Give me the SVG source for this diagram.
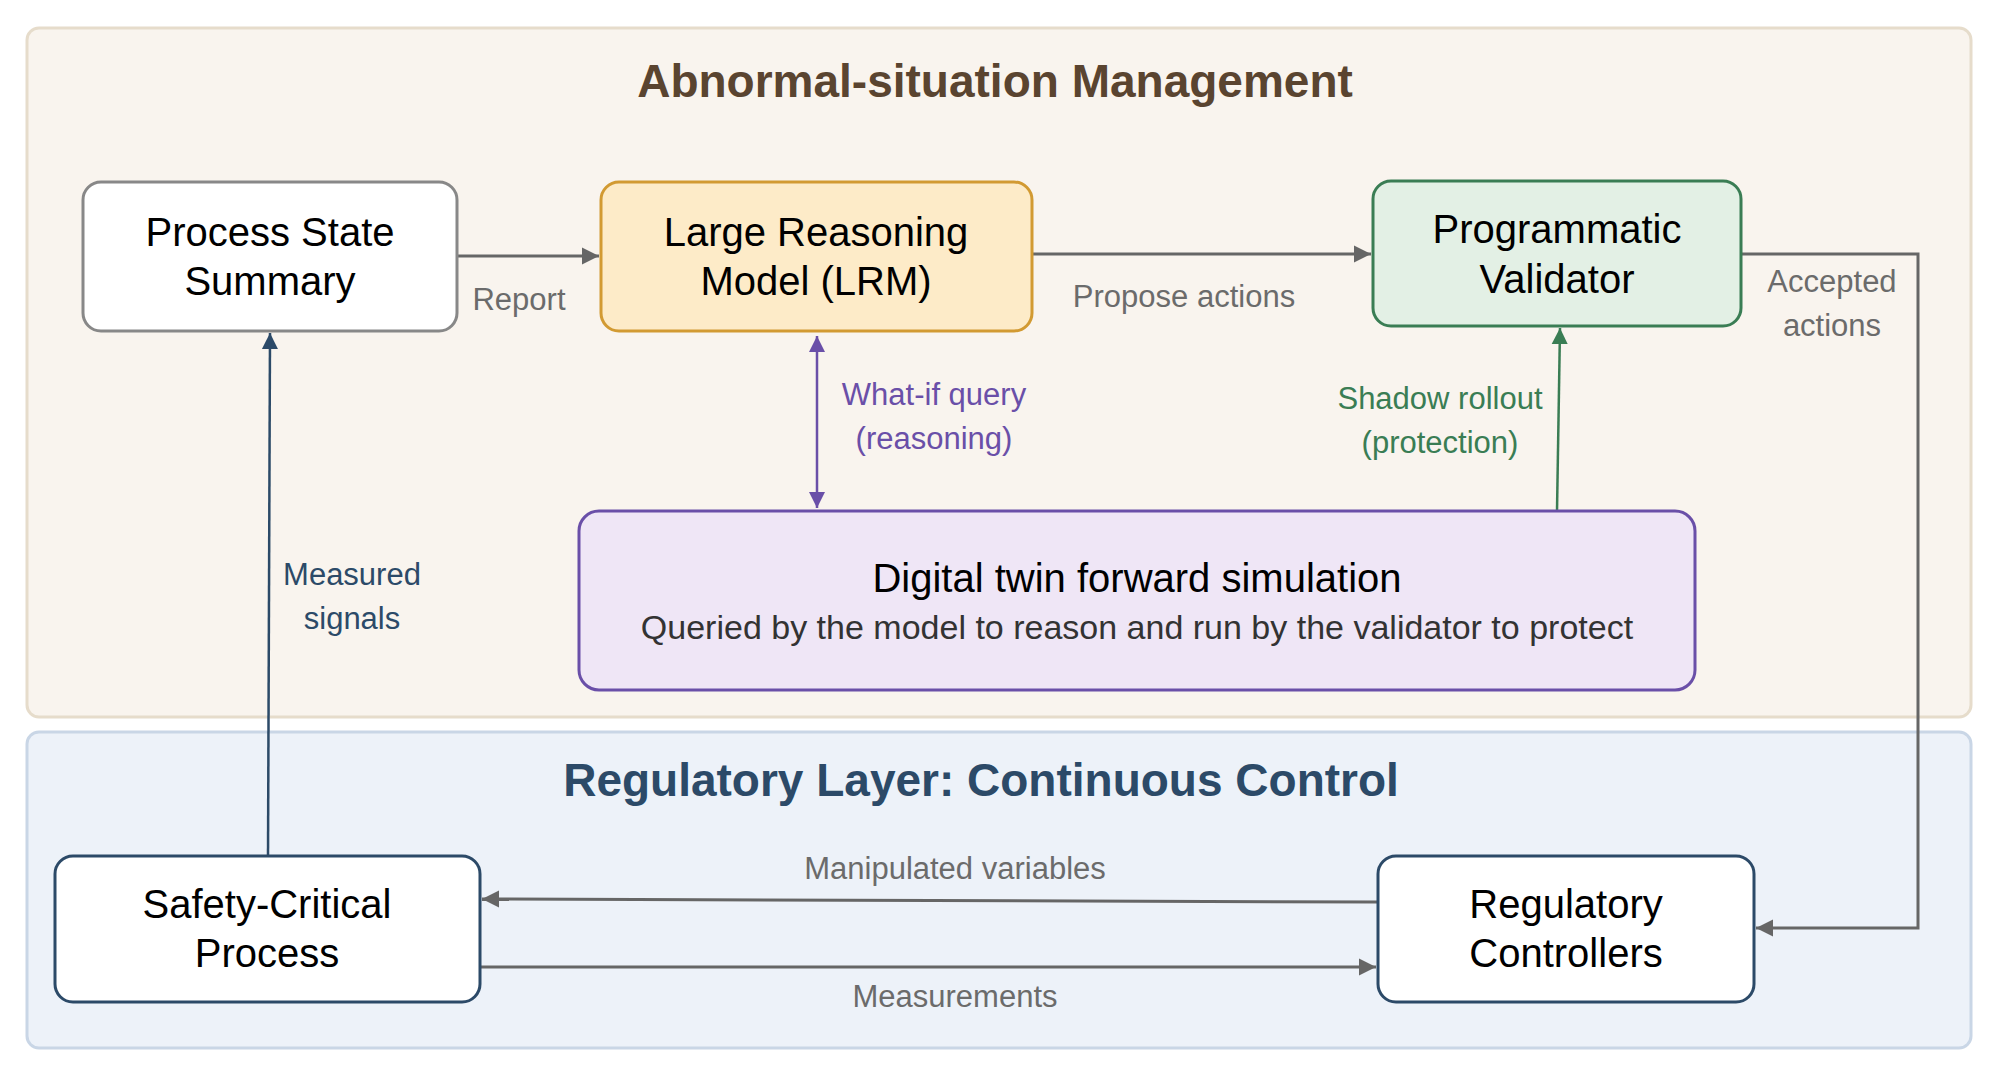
<svg xmlns="http://www.w3.org/2000/svg" width="2000" height="1075" viewBox="0 0 2000 1075">
<style>
text{font-family:"Liberation Sans",Arial,Helvetica,sans-serif;text-anchor:middle}
.title{font-size:46px;font-weight:bold}
.node{font-size:40px;fill:#000}
.lbl{font-size:31px;fill:#6b6b6b}
.box{stroke-width:3}
.gray{stroke:#666;stroke-width:3;fill:none}
</style>
<defs>
<marker id="ag" viewBox="0 0 10 10" refX="10" refY="5" markerWidth="5.8" markerHeight="5.8" orient="auto-start-reverse" markerUnits="strokeWidth"><path d="M0,0 L10,5 L0,10 z" fill="#666"/></marker>
<marker id="ab" viewBox="0 0 10 10" refX="10" refY="5" markerWidth="6.5" markerHeight="7" orient="auto-start-reverse" markerUnits="strokeWidth"><path d="M0,0 L10,5 L0,10 z" fill="#2c4a68"/></marker>
<marker id="ap" viewBox="0 0 10 10" refX="10" refY="5" markerWidth="6.5" markerHeight="7" orient="auto-start-reverse" markerUnits="strokeWidth"><path d="M0,0 L10,5 L0,10 z" fill="#6a4fa8"/></marker>
<marker id="agr" viewBox="0 0 10 10" refX="10" refY="5" markerWidth="6.5" markerHeight="7" orient="auto-start-reverse" markerUnits="strokeWidth"><path d="M0,0 L10,5 L0,10 z" fill="#3a7d54"/></marker>
</defs>
<rect width="2000" height="1075" fill="#fff"/>
<g id="panel-asm">
<rect x="27" y="28" width="1944" height="689" rx="12" fill="#f9f4ee" stroke="#e6dccb" stroke-width="3"/>
<text class="title" x="995" y="97" fill="#5a4430">Abnormal-situation Management</text>
</g>
<g id="panel-reg">
<rect x="27" y="732" width="1944" height="316" rx="12" fill="#edf2f9" stroke="#c9d6e6" stroke-width="3"/>
<text class="title" x="981" y="796" fill="#2c4a68">Regulatory Layer: Continuous Control</text>
</g>
<g id="connectors">
<line class="gray" x1="457" y1="256" x2="599" y2="256" marker-end="url(#ag)"/>
<text class="lbl" x="519" y="310">Report</text>
<line class="gray" x1="1032" y1="254" x2="1371" y2="254" marker-end="url(#ag)"/>
<text class="lbl" x="1184" y="307">Propose actions</text>
<polyline class="gray" points="1741,254 1918,254 1918,928 1756,928" marker-end="url(#ag)"/>
<text class="lbl" x="1832" y="292">Accepted</text>
<text class="lbl" x="1832" y="336">actions</text>
<line class="gray" x1="1378" y1="902" x2="482" y2="899" marker-end="url(#ag)"/>
<text class="lbl" x="955" y="879">Manipulated variables</text>
<line class="gray" x1="480" y1="967" x2="1376" y2="967" marker-end="url(#ag)"/>
<text class="lbl" x="955" y="1007">Measurements</text>
<line x1="268" y1="856" x2="270" y2="333" stroke="#2c4a68" stroke-width="2.5" marker-end="url(#ab)"/>
<text class="lbl" x="352" y="585" style="fill:#2c4a68">Measured</text>
<text class="lbl" x="352" y="629" style="fill:#2c4a68">signals</text>
<line x1="817" y1="336" x2="817" y2="508" stroke="#6a4fa8" stroke-width="2.5" marker-start="url(#ap)" marker-end="url(#ap)"/>
<text class="lbl" x="934" y="405" style="fill:#6a4fa8">What-if query</text>
<text class="lbl" x="934" y="449" style="fill:#6a4fa8">(reasoning)</text>
<line x1="1557" y1="511" x2="1560" y2="328" stroke="#3a7d54" stroke-width="2.5" marker-end="url(#agr)"/>
<text class="lbl" x="1440" y="409" style="fill:#3a7d54">Shadow rollout</text>
<text class="lbl" x="1440" y="453" style="fill:#3a7d54">(protection)</text>
</g>
<g id="node-pss">
<rect class="box" x="83" y="182" width="374" height="149" rx="18" fill="#fff" stroke="#888"/>
<text class="node" x="270" y="246">Process State</text>
<text class="node" x="270" y="295">Summary</text>
</g>
<g id="node-lrm">
<rect class="box" x="601" y="182" width="431" height="149" rx="18" fill="#fdebc8" stroke="#d29a32"/>
<text class="node" x="816" y="246">Large Reasoning</text>
<text class="node" x="816" y="295">Model (LRM)</text>
</g>
<g id="node-pv">
<rect class="box" x="1373" y="181" width="368" height="145" rx="18" fill="#e3f0e5" stroke="#3a7d54"/>
<text class="node" x="1557" y="243">Programmatic</text>
<text class="node" x="1557" y="293">Validator</text>
</g>
<g id="node-dt">
<rect class="box" x="579" y="511" width="1116" height="179" rx="20" fill="#efe6f6" stroke="#6a4fa8"/>
<text class="node" x="1137" y="592">Digital twin forward simulation</text>
<text x="1137" y="639" style="font-size:34px;fill:#333">Queried by the model to reason and run by the validator to protect</text>
</g>
<g id="node-scp">
<rect class="box" x="55" y="856" width="425" height="146" rx="18" fill="#fff" stroke="#2c4a68"/>
<text class="node" x="267" y="918">Safety-Critical</text>
<text class="node" x="267" y="967">Process</text>
</g>
<g id="node-rc">
<rect class="box" x="1378" y="856" width="376" height="146" rx="18" fill="#fff" stroke="#2c4a68"/>
<text class="node" x="1566" y="918">Regulatory</text>
<text class="node" x="1566" y="967">Controllers</text>
</g>
</svg>
